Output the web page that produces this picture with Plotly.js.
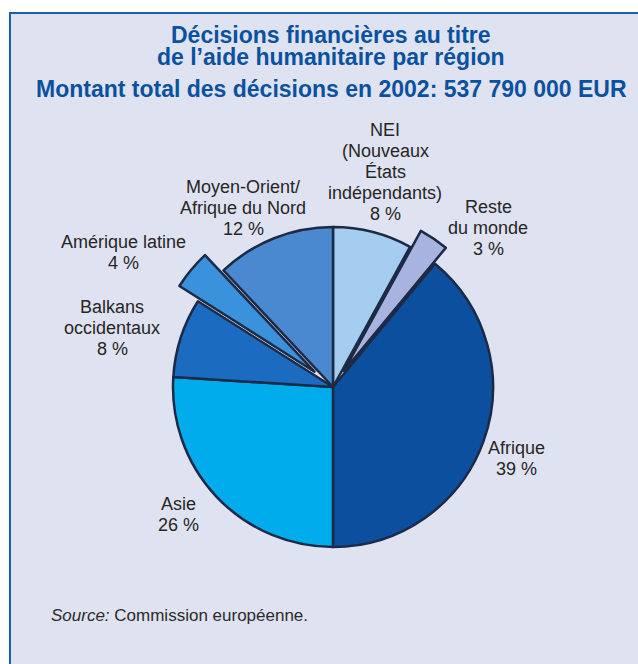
<!DOCTYPE html>
<html>
<head>
<meta charset="utf-8">
<script src="https://cdn.plot.ly/plotly-3.0.1.min.js"></script>
<style>html,body{margin:0;padding:0;background:#fff;}#chart{width:638px;height:664px;}</style>
</head>
<body>
<div id="chart"></div>
<script>
// ---- data ----
var regions = ['NEI (Nouveaux États indépendants)', 'Reste du monde', 'Afrique', 'Asie',
               'Balkans occidentaux', 'Amérique latine', 'Moyen-Orient/Afrique du Nord'];
var shares = [8, 3, 39, 26, 8, 4, 12];
var labelLines = [
  ['NEI', '(Nouveaux', 'États', 'indépendants)'],
  ['Reste', 'du monde'],
  ['Afrique'],
  ['Asie'],
  ['Balkans', 'occidentaux'],
  ['Amérique latine'],
  ['Moyen-Orient/', 'Afrique du Nord']
];
var titleLines = ['Décisions financières au titre', 'de l’aide humanitaire par région',
                  'Montant total des décisions en 2002: 537 790 000 EUR'];
var sourceText = '<i>Source:</i> Commission européenne.';

// ---- styles / positions ----
var W = 638, H = 664;
var colors = ['#a4cdef', '#a9b3e0', '#0c4f9e', '#00acec', '#1b6cc1', '#3a92dc', '#4a88cf'];
var pulls = [0, 0.12, 0, 0, 0, 0.15, 0];
var labelPos = [[385, 130], [488, 207], [516, 448], [178, 504], [112, 307], [123, 242], [243, 187]];
var titlePos = [[331, 35], [331, 57], [331, 89]];
var lineH = 21;
var cx = 333, cy = 387, R = 160;
var maxPull = Math.max.apply(null, pulls);
var half = R * (1 + maxPull);
var FONT = 'Liberation Sans, Arial, Helvetica, sans-serif';

function px(x) { return x / W; }
function py(y) { return 1 - y / H; }

var annotations = [];
titleLines.forEach(function (t, i) {
  annotations.push({
    text: t, x: px(titlePos[i][0]), y: py(titlePos[i][1]), xref: 'paper', yref: 'paper',
    xanchor: 'center', yanchor: 'middle', showarrow: false,
    font: {family: FONT, size: 23, color: '#0a519f', weight: 'bold'}
  });
});
labelLines.forEach(function (lines, i) {
  var all = lines.concat([shares[i] + ' %']);
  all.forEach(function (t, j) {
    annotations.push({
      text: t, x: px(labelPos[i][0]), y: py(labelPos[i][1] + j * lineH), xref: 'paper', yref: 'paper',
      xanchor: 'center', yanchor: 'middle', showarrow: false,
      font: {family: FONT, size: 18, color: '#262626'}
    });
  });
});
annotations.push({
  text: sourceText, x: px(49), y: py(615), xref: 'paper', yref: 'paper',
  xanchor: 'left', yanchor: 'middle', showarrow: false,
  font: {family: FONT, size: 17, color: '#2b2b2b'}
});

var trace = {
  type: 'pie',
  labels: regions,
  values: shares,
  sort: false,
  direction: 'clockwise',
  rotation: 0,
  pull: pulls,
  textinfo: 'none',
  hoverinfo: 'label+percent',
  marker: {colors: colors, line: {color: '#1d2a45', width: 2.5}},
  domain: {x: [px(cx - half), px(cx + half)], y: [py(cy + half), py(cy - half)]},
  showlegend: false
};

var layout = {
  width: W, height: H,
  margin: {l: 0, r: 0, t: 0, b: 0},
  paper_bgcolor: '#ffffff',
  showlegend: false,
  shapes: [{
    type: 'rect', xref: 'paper', yref: 'paper', layer: 'below',
    x0: px(10), x1: 1.02, y0: -0.02, y1: py(13),
    fillcolor: '#dfe3f1', line: {color: '#1a5eae', width: 2}
  }],
  annotations: annotations
};

Plotly.newPlot('chart', [trace], layout, {displayModeBar: false, staticPlot: true});
</script>
</body>
</html>
